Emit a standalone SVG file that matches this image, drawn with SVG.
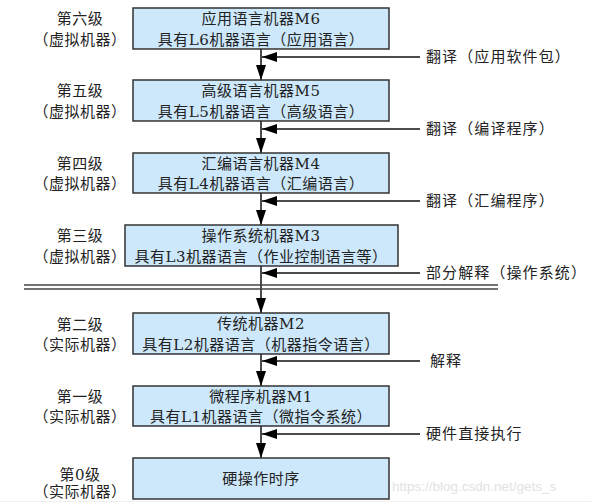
<svg xmlns="http://www.w3.org/2000/svg" width="591" height="503" viewBox="0 0 591 503">
<defs>
<style>
text{font-family:"DejaVu Serif","Noto Sans CJK SC",serif;font-size:15px;fill:#222;letter-spacing:0.5px;}
.c{text-anchor:middle;}
#labels text{letter-spacing:1.1px;}
.box rect{fill:#cde8fb;stroke:#333;stroke-width:1.5;}
.ln{stroke:#111;stroke-width:1.5;fill:none;}
.ah{fill:#000;}
.wm{font-family:"Liberation Sans",sans-serif;font-size:13.5px;fill:#e2e2e2;letter-spacing:0;}
</style>
<marker id="a" viewBox="0 0 15 10" refX="15" refY="5" markerWidth="15" markerHeight="10" markerUnits="userSpaceOnUse" orient="auto">
<path d="M0,0L15,5L0,10Z" class="ah"/>
</marker>
</defs>
<rect width="591" height="503" fill="#fff"/>

<g id="connectors">
<line class="ln" x1="261" y1="49" x2="261" y2="80" marker-end="url(#a)"/>
<line class="ln" x1="261" y1="121" x2="261" y2="153" marker-end="url(#a)"/>
<line class="ln" x1="261" y1="193" x2="261" y2="225" marker-end="url(#a)"/>
<line class="ln" x1="261" y1="266" x2="261" y2="313" marker-end="url(#a)"/>
<line class="ln" x1="261" y1="354" x2="261" y2="386" marker-end="url(#a)"/>
<line class="ln" x1="261" y1="426" x2="261" y2="458" marker-end="url(#a)"/>
<line class="ln" x1="420" y1="57" x2="262" y2="57" marker-end="url(#a)"/>
<line class="ln" x1="420" y1="129" x2="262" y2="129" marker-end="url(#a)"/>
<line class="ln" x1="420" y1="201" x2="262" y2="201" marker-end="url(#a)"/>
<line class="ln" x1="420" y1="273" x2="262" y2="273" marker-end="url(#a)"/>
<line class="ln" x1="420" y1="361" x2="262" y2="361" marker-end="url(#a)"/>
<line class="ln" x1="420" y1="434" x2="262" y2="434" marker-end="url(#a)"/>
<line x1="24" y1="285" x2="498" y2="285" stroke="#444" stroke-width="1.5"/>
<line x1="24" y1="289" x2="498" y2="289" stroke="#444" stroke-width="1.5"/>
</g>

<g id="m6" class="box">
<rect x="133" y="8" width="256" height="41"/>
<text class="c" x="261" y="24">应用语言机器M6</text>
<text class="c" x="261" y="45">具有L6机器语言（应用语言）</text>
</g>
<g id="m5" class="box">
<rect x="133" y="80" width="256" height="41"/>
<text class="c" x="261" y="96">高级语言机器M5</text>
<text class="c" x="261" y="117">具有L5机器语言（高级语言）</text>
</g>
<g id="m4" class="box">
<rect x="133" y="153" width="256" height="40"/>
<text class="c" x="261" y="169">汇编语言机器M4</text>
<text class="c" x="261" y="189">具有L4机器语言（汇编语言）</text>
</g>
<g id="m3" class="box">
<rect x="125" y="225" width="273" height="41"/>
<text class="c" x="261" y="241">操作系统机器M3</text>
<text class="c" x="261" y="262">具有L3机器语言（作业控制语言等）</text>
</g>
<g id="m2" class="box">
<rect x="133" y="313" width="256" height="41"/>
<text class="c" x="261" y="329">传统机器M2</text>
<text class="c" x="261" y="350">具有L2机器语言（机器指令语言）</text>
</g>
<g id="m1" class="box">
<rect x="133" y="386" width="256" height="40"/>
<text class="c" x="261" y="402">微程序机器M1</text>
<text class="c" x="261" y="422">具有L1机器语言（微指令系统）</text>
</g>
<g id="m0" class="box">
<rect x="133" y="458" width="256" height="41"/>
<text class="c" x="261" y="484">硬操作时序</text>
</g>

<g id="levels">
<text class="c" x="80" y="24">第六级</text>
<text class="c" x="80" y="45">（虚拟机器）</text>
<text class="c" x="80" y="96">第五级</text>
<text class="c" x="80" y="117">（虚拟机器）</text>
<text class="c" x="80" y="169">第四级</text>
<text class="c" x="80" y="189">（虚拟机器）</text>
<text class="c" x="80" y="241">第三级</text>
<text class="c" x="80" y="262">（虚拟机器）</text>
<text class="c" x="80" y="330">第二级</text>
<text class="c" x="80" y="350">（实际机器）</text>
<text class="c" x="80" y="402">第一级</text>
<text class="c" x="80" y="422">（实际机器）</text>
<text class="c" x="80" y="480">第0级</text>
<text class="c" x="80" y="497">（实际机器）</text>
</g>

<g id="labels">
<text x="426" y="62">翻译（应用软件包）</text>
<text x="426" y="134">翻译（编译程序）</text>
<text x="426" y="206">翻译（汇编程序）</text>
<text x="426" y="278">部分解释（操作系统）</text>
<text x="430" y="366">解释</text>
<text x="426" y="439">硬件直接执行</text>
</g>
<text class="wm" x="392" y="491">https://blog.csdn.net/gets_s</text>
<line x1="0" y1="501.5" x2="591" y2="501.5" stroke="#eee" stroke-width="1"/>
</svg>
